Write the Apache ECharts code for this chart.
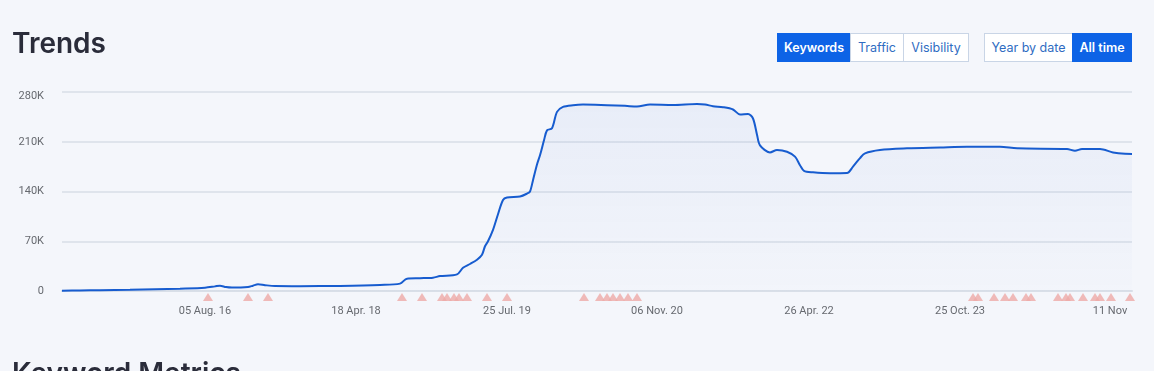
<!DOCTYPE html>
<html>
<head>
<meta charset="utf-8">
<script src="https://cdn.jsdelivr.net/npm/echarts@6/dist/echarts.min.js"></script>
<style>
  html, body { margin: 0; padding: 0; background: #f4f6fb; width: 1154px; height: 371px; overflow: hidden; }
  #chart { position: absolute; left: 0; top: 0; width: 1154px; height: 371px; }
  .h { position: absolute; left: 12px; font-family: Inter, "Noto Sans", sans-serif; font-weight: 600; font-size: 28px; line-height: 28px; color: #2a2c3a; margin: 0; }
  .btns { position: absolute; top: 33px; height: 29px; display: flex; font-family: Inter, "Noto Sans", sans-serif; font-size: 12.5px; }
  .btns div { box-sizing: border-box; height: 29px; line-height: 27px; text-align: center; border: 1px solid #c9d5e6; background: #fff; color: #2f6cc2; margin-left: -1px; }
  .btns div.on { background: #0d63e6; border-color: #0d63e6; color: #fff; font-weight: 600; }
</style>
</head>
<body>
<div id="chart"></div>
<div class="h" style="top:29px">Trends</div>
<div class="btns" style="left:777px">
  <div class="on" style="width:74px;margin-left:0">Keywords</div>
  <div style="width:54px">Traffic</div>
  <div style="width:66px">Visibility</div>
</div>
<div class="btns" style="left:984px">
  <div style="width:89px;margin-left:0">Year by date</div>
  <div class="on" style="width:60px">All time</div>
</div>
<div class="h" style="top:359px">Keyword Metrics</div>
<script>
// x positions along the (irregular) time axis, 0..107
const trendPos = [0, 1.8, 3.8, 6.8, 9.3, 11.8, 14.3, 15.3, 15.8, 16.4, 17.0, 18.6, 19.1, 19.6, 20.3, 21.3, 23.8, 27.8, 31.8, 33.8,
  34.5, 35.8, 37.1, 37.8, 39.5, 40.1, 40.8, 41.5, 42.0, 42.3, 42.6, 43.1, 43.6, 44.1, 44.5, 45.8, 46.5, 46.8, 47.1, 47.5,
  47.8, 48.2, 48.5, 49.0, 49.5, 50.1, 51.1, 52.1, 54.5, 56.3, 57.5, 58.8, 61.1, 63.5, 64.3, 65.1, 66.1, 67.1, 67.8, 68.6,
  69.1, 69.5, 69.8, 70.8, 71.5, 72.5, 73.3, 73.8, 74.2, 75.1, 76.8, 78.5, 79.1, 79.8, 80.3, 81.8, 84.5, 87.8, 90.5, 93.8,
  95.5, 100.5, 101.3, 102.0, 103.8, 105.1, 106.3, 107];
// keyword counts
const trendValues = [300, 800, 1200, 1600, 2400, 3300, 4600, 6500, 7500, 5500, 4800, 5600, 7500, 9400, 8200, 7000, 6800, 7200, 8500, 10400,
  17400, 18000, 18700, 21000, 23400, 32700, 38000, 44000, 51000, 63000, 70000, 86000, 108000, 128000, 131600, 133000, 137000, 140000, 156000, 178000,
  191000, 212000, 226000, 229000, 252000, 259000, 261400, 262300, 261400, 260500, 259500, 262300, 261800, 263200, 262500, 260000, 258600, 255400, 248400, 249200,
  242700, 220000, 205000, 195000, 198400, 196000, 189000, 177000, 169000, 167000, 165700, 166000, 175000, 187000, 193700, 198400, 200700, 202000, 203000, 203000,
  200700, 199800, 197400, 199800, 199800, 195000, 193000, 192800];
// event markers (triangles under the axis)
const eventPos = [14.6, 18.6, 20.6, 34.0, 36.0, 38.0, 38.5, 39.2, 39.7, 40.5, 42.5, 44.5,
  52.2, 53.8, 54.5, 55.1, 55.8, 56.6, 57.5,
  91.1, 91.6, 93.2, 94.3, 95.1, 96.4, 96.9, 99.6, 100.4, 100.8, 102.1, 103.3, 103.8, 104.9, 106.8];
// x tick labels
const xTickPos = [14.3, 29.4, 44.5, 59.5, 74.7, 89.8, 104.8];
const xTickLabels = ['05 Aug. 16', '18 Apr. 18', '25 Jul. 19', '06 Nov. 20', '26 Apr. 22', '25 Oct. 23', '11 Nov'];
// y ticks
const yTicks = [0, 70000, 140000, 210000, 280000];
const yTickLabels = ['0', '70K', '140K', '210K', '280K'];

const chart = echarts.init(document.getElementById('chart'), null, { renderer: 'canvas' });
const labelFont = { fontFamily: 'Roboto, Inter, sans-serif', fontSize: 11, color: '#66696f' };
chart.setOption({
  backgroundColor: 'transparent',
  animation: false,
  grid: [
    { left: 62, right: 22, top: 92, bottom: 80 },
    { left: 62, right: 22, top: 291, height: 12 }
  ],
  xAxis: [
    {
      type: 'value', gridIndex: 0, min: 0, max: 107,
      axisLine: { show: true, lineStyle: { color: '#d9dfe8', width: 2 } },
      axisTick: { show: false },
      splitLine: { show: false },
      axisLabel: Object.assign({
        margin: 15,
        customValues: xTickPos,
        formatter: v => xTickLabels[xTickPos.indexOf(v)] || ''
      }, labelFont)
    },
    { type: 'value', gridIndex: 1, min: 0, max: 107, show: false }
  ],
  yAxis: [
    {
      type: 'value', gridIndex: 0, min: 0, max: 280000, interval: 70000,
      axisLine: { show: false }, axisTick: { show: false },
      splitLine: { lineStyle: { color: '#dfe4ec', width: 2 } },
      axisLabel: Object.assign({
        margin: 18,
        formatter: v => {
          const t = yTickLabels[yTicks.indexOf(v)];
          return v === yTicks[yTicks.length - 1] ? '{top|' + t + '}' : t;
        },
        rich: { top: { padding: [9, 0, 0, 0], fontFamily: 'Roboto, Inter, sans-serif', fontSize: 11, color: '#66696f' } }
      }, labelFont)
    },
    { type: 'value', gridIndex: 1, min: 0, max: 1, show: false }
  ],
  series: [
    {
      type: 'line',
      xAxisIndex: 0, yAxisIndex: 0,
      data: trendPos.map((p, i) => [p, trendValues[i]]),
      smooth: 0.3,
      showSymbol: false,
      lineStyle: { color: '#175ccf', width: 2 },
      areaStyle: {
        color: new echarts.graphic.LinearGradient(0, 0, 0, 1, [
          { offset: 0, color: 'rgba(40,90,200,0.08)' },
          { offset: 1, color: 'rgba(40,90,200,0.01)' }
        ])
      }
    },
    {
      type: 'scatter',
      xAxisIndex: 1, yAxisIndex: 1,
      data: eventPos.map(p => [p, 0.5]),
      symbol: 'triangle',
      symbolSize: [10, 8],
      itemStyle: { color: '#eeaaa7' },
      silent: true
    }
  ]
});
</script>
</body>
</html>
